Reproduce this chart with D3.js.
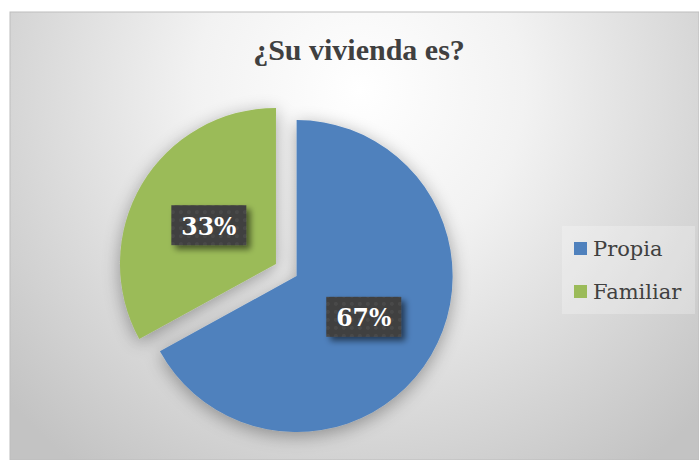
<!DOCTYPE html>
<html><head><meta charset="utf-8">
<script src="https://cdn.jsdelivr.net/npm/d3@7"></script>
<style>body{margin:0;background:#fff}svg{display:block}</style>
</head><body>
<script>
const title = "¿Su vivienda es?";
const categories = ["Propia", "Familiar"];
const values = [67, 33];
const labels = ["67%", "33%"];
const colors = ["#4F81BD", "#9BBB59"];

const W = 699, H = 460;
const svg = d3.select("body").append("svg").attr("width", W).attr("height", H);
const defs = svg.append("defs");

const bg = defs.append("radialGradient").attr("id", "bg")
  .attr("gradientUnits", "userSpaceOnUse").attr("cx", 360).attr("cy", 90).attr("r", 470);
bg.append("stop").attr("offset", "0").attr("stop-color", "#ffffff");
bg.append("stop").attr("offset", "0.35").attr("stop-color", "#f2f2f2");
bg.append("stop").attr("offset", "1").attr("stop-color", "#c3c3c3");

const sh = defs.append("filter").attr("id", "pieShadow").attr("x", "-30%").attr("y", "-30%").attr("width", "160%").attr("height", "160%");
sh.append("feGaussianBlur").attr("in", "SourceAlpha").attr("stdDeviation", 9).attr("result", "b");
sh.append("feOffset").attr("in", "b").attr("dx", 0).attr("dy", 4).attr("result", "o");
sh.append("feComponentTransfer").attr("in", "o").attr("result", "o2")
  .append("feFuncA").attr("type", "linear").attr("slope", 0.35);
const m = sh.append("feMerge");
m.append("feMergeNode").attr("in", "o2");
m.append("feMergeNode").attr("in", "SourceGraphic");

const bs = defs.append("filter").attr("id", "boxShadow").attr("x", "-20%").attr("y", "-30%").attr("width", "150%").attr("height", "170%");
bs.append("feGaussianBlur").attr("in", "SourceAlpha").attr("stdDeviation", 3).attr("result", "b");
bs.append("feOffset").attr("in", "b").attr("dx", 4).attr("dy", 4).attr("result", "o");
bs.append("feComponentTransfer").attr("in", "o").attr("result", "o2")
  .append("feFuncA").attr("type", "linear").attr("slope", 0.55);
const m2 = bs.append("feMerge");
m2.append("feMergeNode").attr("in", "o2");
m2.append("feMergeNode").attr("in", "SourceGraphic");

const pat = defs.append("pattern").attr("id", "dots").attr("patternUnits", "userSpaceOnUse")
  .attr("width", 8).attr("height", 8);
pat.append("rect").attr("width", 8).attr("height", 8).attr("fill", "#3f3f3f");
pat.append("circle").attr("cx", 4).attr("cy", 4).attr("r", 2).attr("fill", "#4a4a4a");

// chart area
svg.append("rect").attr("x", 10).attr("y", 12).attr("width", W - 10).attr("height", H - 12)
  .attr("fill", "url(#bg)").attr("stroke", "#bdbdbd").attr("stroke-width", 1);

svg.append("text").attr("x", 359).attr("y", 60).attr("text-anchor", "middle")
  .attr("font-family", "Liberation Serif").attr("font-weight", "bold").attr("font-size", 30)
  .attr("fill", "#404040").text(title);

const cx = 286.3, cy = 270, r = 156, explode = 12;
const pie = d3.pie().sort(null).value(d => d)(values);
const arc = d3.arc().innerRadius(0).outerRadius(r);
const g = svg.append("g").attr("transform", `translate(${cx},${cy})`);

const offs = pie.map(p => {
  const a = (p.startAngle + p.endAngle) / 2;
  return [Math.sin(a) * explode, -Math.cos(a) * explode];
});

g.append("g").attr("filter", "url(#pieShadow)").selectAll("path").data(pie).join("path")
  .attr("transform", (d, i) => `translate(${offs[i][0]},${offs[i][1]})`)
  .attr("d", arc).attr("fill", (d, i) => colors[i]);

const lg = g.selectAll("g.lab").data(pie).join("g").attr("class", "lab")
  .attr("transform", (d, i) => {
    const c = arc.centroid(d);
    return `translate(${c[0] + offs[i][0]},${c[1] + offs[i][1]})`;
  });
lg.append("rect").attr("x", -37.5).attr("y", -19).attr("width", 75).attr("height", 40)
  .attr("fill", "url(#dots)").attr("filter", "url(#boxShadow)");
lg.append("text").attr("text-anchor", "middle").attr("y", 10.5)
  .attr("font-family", "DejaVu Serif").attr("font-weight", "bold").attr("font-size", 24)
  .attr("textLength", 55).attr("lengthAdjust", "spacingAndGlyphs")
  .attr("fill", "#ffffff").text((d, i) => labels[i]);

// legend
const leg = svg.append("g");
leg.append("rect").attr("x", 562).attr("y", 226).attr("width", 133).attr("height", 88)
  .attr("fill", "#ffffff").attr("fill-opacity", 0.25);
const li = leg.selectAll("g.li").data(categories).join("g").attr("class", "li")
  .attr("transform", (d, i) => `translate(574,${242 + i * 43})`);
li.append("rect").attr("width", 13).attr("height", 13).attr("fill", (d, i) => colors[i]);
li.append("text").attr("x", 19).attr("y", 14).attr("font-family", "DejaVu Serif")
  .attr("font-size", 21).attr("fill", "#404040").text(d => d);
</script>
</body></html>
